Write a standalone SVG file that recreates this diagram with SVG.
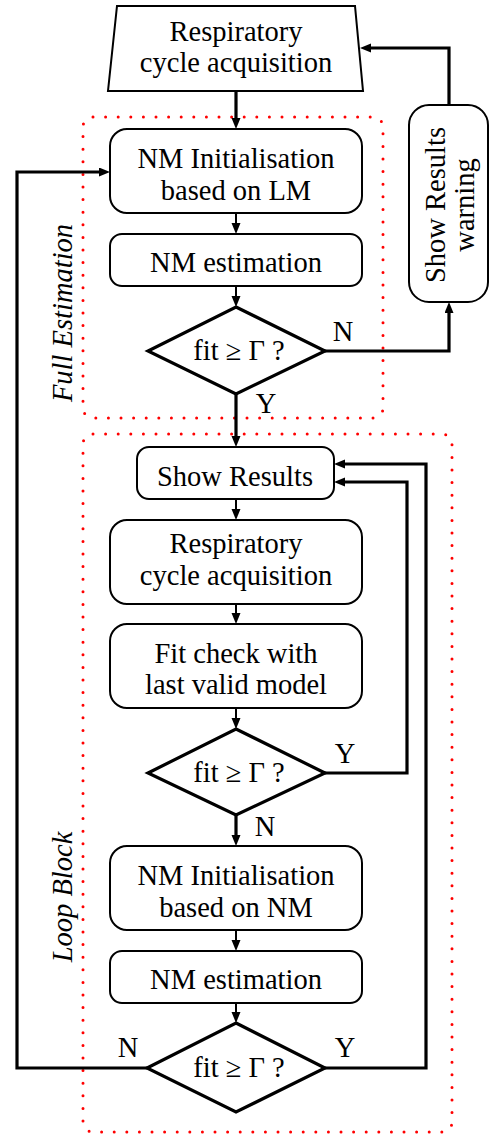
<svg xmlns="http://www.w3.org/2000/svg" width="489" height="1135" viewBox="0 0 489 1135">
<style>
text{font-family:'Liberation Serif',serif;font-size:28.5px;fill:#000;text-anchor:middle}
.it{font-style:italic}
.box{fill:#fff;stroke:#000;stroke-width:2}
.dia{fill:#fff;stroke:#000;stroke-width:3.2;stroke-linejoin:miter}
.grp{fill:none;stroke:#ff0000;stroke-width:3;stroke-dasharray:0 12.6;stroke-linecap:round}
.c{fill:none;stroke:#000;stroke-width:3.2}
.s{fill:none;stroke:#000;stroke-width:2}
</style>
<defs>
<marker id="ah" markerWidth="12" markerHeight="10" refX="3" refY="4.5" orient="auto" markerUnits="userSpaceOnUse"><path d="M0,0 L11,4.5 L0,9 Z" fill="#000"/></marker>
</defs>
<g id="groups">
<rect class="grp" x="83" y="117" width="300" height="301" rx="10"/>
<rect class="grp" x="83" y="434" width="369" height="698" rx="10"/>
<text class="it" transform="translate(72,313) rotate(-90)">Full Estimation</text>
<text class="it" transform="translate(72,897) rotate(-90)">Loop Block</text>
</g>
<g id="connectors">
<path class="c" d="M236,91 V121" marker-end="url(#ah)"/>
<path class="s" d="M236,213 V226" marker-end="url(#ah)"/>
<path class="s" d="M236,286 V299" marker-end="url(#ah)"/>
<path class="c" d="M325,351 H449 V310" marker-end="url(#ah)"/>
<path class="c" d="M449,105 V48 H368" marker-end="url(#ah)"/>
<path class="c" d="M236,394 V439" marker-end="url(#ah)"/>
<path class="s" d="M236,499 V512" marker-end="url(#ah)"/>
<path class="s" d="M236,604 V616" marker-end="url(#ah)"/>
<path class="s" d="M236,708 V721" marker-end="url(#ah)"/>
<path class="c" d="M325,773 H407 V482 H342" marker-end="url(#ah)"/>
<path class="c" d="M236,815 V838" marker-end="url(#ah)"/>
<path class="s" d="M236,930 V943" marker-end="url(#ah)"/>
<path class="s" d="M236,1003 V1015" marker-end="url(#ah)"/>
<path class="c" d="M147,1068 H17 V172 H102" marker-end="url(#ah)"/>
<path class="c" d="M325,1068 H426 V464 H342" marker-end="url(#ah)"/>
<text x="343" y="341">N</text>
<text x="266" y="413">Y</text>
<text x="345" y="763">Y</text>
<text x="265" y="836">N</text>
<text x="128" y="1057">N</text>
<text x="345" y="1057">Y</text>
</g>
<g id="n_acq1">
<path class="box" d="M117,6 H355 L363,91 H108 Z"/>
<text x="236" y="41">Respiratory</text>
<text x="236" y="72">cycle acquisition</text>
</g>
<g id="n_warning">
<rect class="box" x="409" y="105" width="79" height="197" rx="20"/>
<text transform="translate(445,205) rotate(-90)">Show Results</text>
<text transform="translate(474,205) rotate(-90)">warning</text>
</g>
<g id="n_init_lm">
<rect class="box" x="110" y="129" width="252" height="84" rx="17"/>
<text x="236" y="168">NM Initialisation</text>
<text x="236" y="200">based on LM</text>
</g>
<g id="n_est1">
<rect class="box" x="110" y="234" width="252" height="52" rx="12"/>
<text x="236" y="272">NM estimation</text>
</g>
<g id="n_fit1">
<path class="dia" d="M236,307 L325,351 L236,394 L148,351 Z"/>
<text x="239" y="360">fit ≥ Γ ?</text>
</g>
<g id="n_show">
<rect class="box" x="137" y="447" width="197" height="52" rx="12"/>
<text x="235" y="486">Show Results</text>
</g>
<g id="n_acq2">
<rect class="box" x="110" y="520" width="252" height="84" rx="17"/>
<text x="236" y="553">Respiratory</text>
<text x="236" y="585">cycle acquisition</text>
</g>
<g id="n_fitcheck">
<rect class="box" x="110" y="624" width="252" height="84" rx="17"/>
<text x="236" y="663">Fit check with</text>
<text x="236" y="694">last valid model</text>
</g>
<g id="n_fit2">
<path class="dia" d="M236,729 L325,773 L236,815 L148,773 Z"/>
<text x="239" y="782">fit ≥ Γ ?</text>
</g>
<g id="n_init_nm">
<rect class="box" x="110" y="846" width="252" height="84" rx="17"/>
<text x="236" y="885">NM Initialisation</text>
<text x="236" y="917">based on NM</text>
</g>
<g id="n_est2">
<rect class="box" x="110" y="951" width="252" height="52" rx="12"/>
<text x="236" y="989">NM estimation</text>
</g>
<g id="n_fit3">
<path class="dia" d="M236,1023 L325,1068 L236,1112 L147,1068 Z"/>
<text x="239" y="1077">fit ≥ Γ ?</text>
</g>
</svg>
